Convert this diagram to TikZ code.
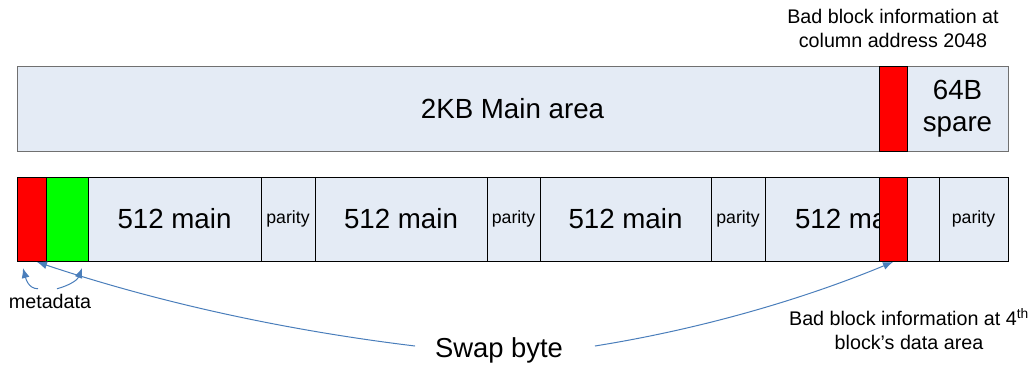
\documentclass[tikz,border=0pt]{standalone}
\usepackage{fontspec}
\setmainfont{Liberation Sans}
\usetikzlibrary{arrows.meta}
\definecolor{cellfill}{HTML}{E4EBF5}
\definecolor{topgray}{HTML}{707070}
\definecolor{arrowblue}{HTML}{4A7EBB}
\definecolor{badred}{HTML}{FF0000}
\definecolor{metagreen}{HTML}{00FF00}
\begin{document}
\begin{tikzpicture}[x=1bp,y=1bp,
  cell/.style={draw=black, fill=cellfill, line width=1bp, inner sep=0pt, outer sep=0pt,
    anchor=north west, minimum height=84bp, font=\fontsize{27.7bp}{32bp}\selectfont, align=center},
  topcell/.style={cell, draw=topgray, minimum height=85bp},
  redcell/.style={cell, fill=badred},
  greencell/.style={cell, fill=metagreen},
  paritycell/.style={cell, font=\fontsize{17.7bp}{21bp}\selectfont},
  note/.style={inner sep=0pt, outer sep=0pt, align=center, font=\fontsize{19.7bp}{24bp}\selectfont},
  big/.style={inner sep=0pt, outer sep=0pt, font=\fontsize{27.4bp}{32bp}\selectfont},
  arr/.style={draw=arrowblue, line width=1bp, -{Latex[length=10bp,width=8bp]}}
]
\useasboundingbox (0,0) rectangle (1032,-366);

% top bar
\node[topcell, minimum width=991bp] (bar) at (17,-66) {2KB Main area};
\node[topcell, minimum width=101bp] (spare) at (907,-66) {64B\\spare};
\node[redcell, minimum height=85bp, minimum width=28bp] (r0) at (879,-66) {};
\node[note] (toplabel) at (893,-28) {Bad block information at\\column address 2048};

% bottom row
\node[redcell, minimum width=29bp] (r1) at (17,-177) {};
\node[greencell, minimum width=42bp] (g) at (46,-177) {};
\node[cell, minimum width=173bp] (m1) at (88,-177) {512 main};
\node[paritycell, minimum width=54bp] (p1) at (261,-177) {parity};
\node[cell, minimum width=172bp] (m2) at (315,-177) {512 main};
\node[paritycell, minimum width=53bp] (p2) at (487,-177) {parity};
\node[cell, minimum width=171bp] (m3) at (540,-177) {512 main};
\node[paritycell, minimum width=54bp] (p3) at (711,-177) {parity};
\node[cell, minimum width=174bp] (m4) at (765,-177) {512 main};
\node[paritycell, minimum width=69bp] (p4) at (939,-177) {parity};
\node[redcell, minimum width=28bp] (r2) at (879,-177) {};

% labels
\node[note] (meta) at (50,-301) {metadata};
\node[big] (swap) at (499,-350) {Swap byte};
\node[note] (botlabel) at (909,-329) {Bad block information at 4\textsuperscript{th}\\block’s data area};

% connectors
\draw[arr] ([xshift=-12bp,yshift=5bp]meta.north) to[out=180,in=-75] ([xshift=-8.5bp,yshift=-7bp]r1.south);
\draw[arr] ([xshift=7bp,yshift=5bp]meta.north) to[out=15,in=-110] ([xshift=15bp,yshift=-7bp]g.south);
\draw[arr] ([xshift=-20bp,yshift=4bp]swap.west) .. controls +(-128.6,15.6) and +(122.8,-41) .. ([xshift=5.5bp,yshift=-1bp]r1.south);
\draw[arr] ([xshift=32bp,yshift=4bp]swap.east) .. controls +(101.3,16.2) and +(-94.7,-39.2) .. ([yshift=-1bp]r2.south);
\end{tikzpicture}
\end{document}
